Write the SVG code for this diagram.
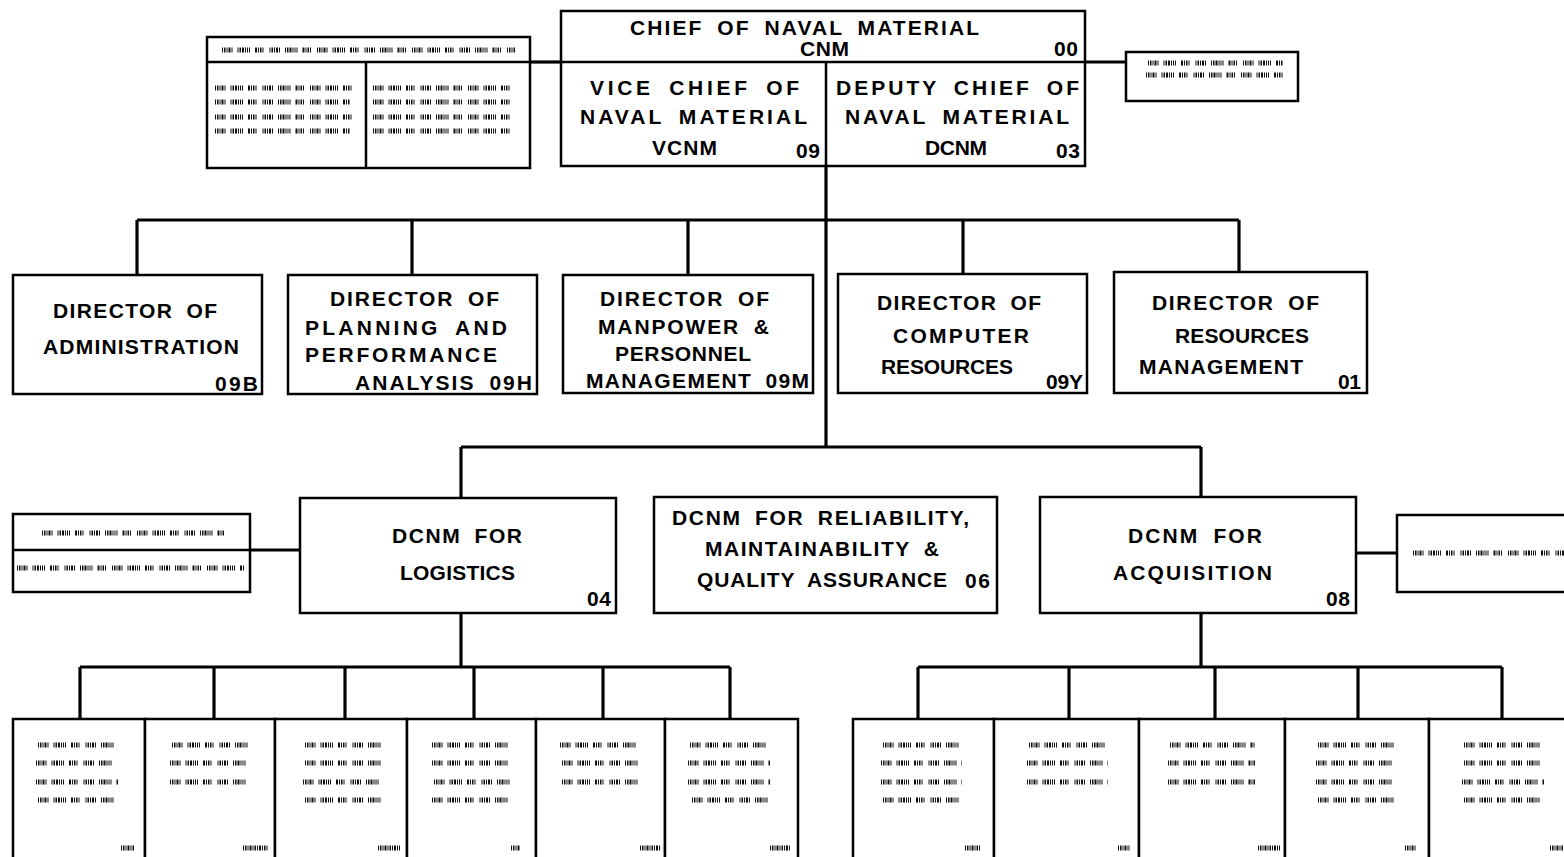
<svg xmlns="http://www.w3.org/2000/svg" width="1564" height="857" viewBox="0 0 1564 857">
<style>
.bg{fill:#fff}
.box{fill:#fff;stroke:#000;stroke-width:2.5}
.div{stroke:#000;stroke-width:2.5;fill:none}
.con{stroke:#000;stroke-width:3.2;fill:none}
.t{font-family:"Liberation Sans",Arial,sans-serif;font-weight:bold;font-size:21px;fill:#000;letter-spacing:1px;word-spacing:6px}
.n{letter-spacing:0px}
.s{stroke:#111;stroke-width:5;fill:none;stroke-dasharray:1 1 1.5 1 1 1 2 1 1 5 1 1 1.5 1 2 1 1 1 1 1 1 5 2 1 1 1 1.5 1 1 6}
.sc{stroke:#111;stroke-width:5;fill:none;stroke-dasharray:1 1 1.5 1 1 1 2 1}
</style>
<rect class="bg" x="0" y="0" width="1564" height="857"/>

<g id="connectors">
<line class="con" x1="530" y1="62" x2="561" y2="62"/>
<line class="con" x1="1085" y1="62" x2="1126" y2="62"/>
<line class="con" x1="826" y1="166" x2="826" y2="447"/>
<line class="con" x1="137" y1="220" x2="1239" y2="220"/>
<line class="con" x1="137" y1="220" x2="137" y2="275"/>
<line class="con" x1="412" y1="220" x2="412" y2="275"/>
<line class="con" x1="688" y1="220" x2="688" y2="275"/>
<line class="con" x1="963" y1="220" x2="963" y2="274"/>
<line class="con" x1="1239" y1="220" x2="1239" y2="272"/>
<line class="con" x1="461" y1="447" x2="1201" y2="447"/>
<line class="con" x1="461" y1="447" x2="461" y2="498"/>
<line class="con" x1="1201" y1="447" x2="1201" y2="497"/>
<line class="con" x1="250" y1="550" x2="300" y2="550"/>
<line class="con" x1="1356" y1="553" x2="1397" y2="553"/>
<line class="con" x1="461" y1="613" x2="461" y2="667"/>
<line class="con" x1="80" y1="667" x2="730" y2="667"/>
<line class="con" x1="80" y1="667" x2="80" y2="719"/>
<line class="con" x1="214" y1="667" x2="214" y2="719"/>
<line class="con" x1="345" y1="667" x2="345" y2="719"/>
<line class="con" x1="474" y1="667" x2="474" y2="719"/>
<line class="con" x1="603" y1="667" x2="603" y2="719"/>
<line class="con" x1="730" y1="667" x2="730" y2="719"/>
<line class="con" x1="1201" y1="613" x2="1201" y2="667"/>
<line class="con" x1="918" y1="667" x2="1502" y2="667"/>
<line class="con" x1="918" y1="667" x2="918" y2="719"/>
<line class="con" x1="1069" y1="667" x2="1069" y2="719"/>
<line class="con" x1="1215" y1="667" x2="1215" y2="719"/>
<line class="con" x1="1358" y1="667" x2="1358" y2="719"/>
<line class="con" x1="1502" y1="667" x2="1502" y2="719"/>
</g>

<g id="cnm">
<rect class="box" x="561" y="11" width="524" height="155"/>
<line class="div" x1="561" y1="62" x2="1085" y2="62"/>
<line class="div" x1="826" y1="62" x2="826" y2="166"/>
<text class="t" x="630" y="35" textLength="350" lengthAdjust="spacing">CHIEF OF NAVAL MATERIAL</text>
<text class="t" x="800" y="56" textLength="50" lengthAdjust="spacing">CNM</text>
<text class="t n" x="1054" y="56" textLength="24" lengthAdjust="spacing">00</text>
</g>
<g id="vcnm">
<text class="t" x="590" y="95" textLength="210" lengthAdjust="spacing">VICE CHIEF OF</text>
<text class="t" x="580" y="124" textLength="228" lengthAdjust="spacing">NAVAL MATERIAL</text>
<text class="t" x="652" y="155" textLength="66" lengthAdjust="spacing">VCNM</text>
<text class="t n" x="796" y="158" textLength="24" lengthAdjust="spacing">09</text>
</g>
<g id="dcnm">
<text class="t" x="836" y="95" textLength="244" lengthAdjust="spacing">DEPUTY CHIEF OF</text>
<text class="t" x="845" y="124" textLength="225" lengthAdjust="spacing">NAVAL MATERIAL</text>
<text class="t" x="925" y="155" textLength="63" lengthAdjust="spacing">DCNM</text>
<text class="t n" x="1056" y="158" textLength="24" lengthAdjust="spacing">03</text>
</g>

<g id="note-topleft">
<rect class="box" x="207" y="37" width="323" height="131"/>
<line class="div" x1="207" y1="62" x2="530" y2="62"/>
<line class="div" x1="366" y1="62" x2="366" y2="168"/>
<line class="s" x1="222" y1="50" x2="515" y2="50"/>
<line class="s" x1="215" y1="88" x2="355" y2="88"/>
<line class="s" x1="215" y1="102" x2="350" y2="102"/>
<line class="s" x1="215" y1="117" x2="355" y2="117"/>
<line class="s" x1="215" y1="131" x2="350" y2="131"/>
<line class="s" x1="373" y1="88" x2="510" y2="88"/>
<line class="s" x1="373" y1="102" x2="510" y2="102"/>
<line class="s" x1="373" y1="117" x2="510" y2="117"/>
<line class="s" x1="373" y1="131" x2="510" y2="131"/>
</g>

<g id="note-topright">
<rect class="box" x="1126" y="52" width="172" height="49"/>
<line class="s" x1="1148" y1="63" x2="1283" y2="63"/>
<line class="s" x1="1146" y1="75" x2="1283" y2="75"/>
</g>

<g id="dir-09b">
<rect class="box" x="13" y="275" width="249" height="119"/>
<text class="t" x="53" y="318" textLength="165" lengthAdjust="spacing">DIRECTOR OF</text>
<text class="t" x="43" y="354" textLength="197" lengthAdjust="spacing">ADMINISTRATION</text>
<text class="t n" x="215" y="391" textLength="43" lengthAdjust="spacing">09B</text>
</g>
<g id="dir-09h">
<rect class="box" x="288" y="275" width="249" height="119"/>
<text class="t" x="330" y="306" textLength="170" lengthAdjust="spacing">DIRECTOR OF</text>
<text class="t" x="305" y="335" textLength="203" lengthAdjust="spacing">PLANNING AND</text>
<text class="t" x="305" y="362" textLength="193" lengthAdjust="spacing">PERFORMANCE</text>
<text class="t" x="355" y="390" textLength="178" lengthAdjust="spacing">ANALYSIS 09H</text>
</g>
<g id="dir-09m">
<rect class="box" x="563" y="275" width="250" height="118"/>
<text class="t" x="600" y="306" textLength="170" lengthAdjust="spacing">DIRECTOR OF</text>
<text class="t" x="598" y="334" textLength="172" lengthAdjust="spacing">MANPOWER &amp;</text>
<text class="t" x="615" y="361" textLength="137" lengthAdjust="spacing">PERSONNEL</text>
<text class="t" x="586" y="388" textLength="224" lengthAdjust="spacing">MANAGEMENT 09M</text>
</g>
<g id="dir-09y">
<rect class="box" x="838" y="274" width="249" height="119"/>
<text class="t" x="877" y="310" textLength="165" lengthAdjust="spacing">DIRECTOR OF</text>
<text class="t" x="893" y="343" textLength="137" lengthAdjust="spacing">COMPUTER</text>
<text class="t" x="881" y="374" textLength="133" lengthAdjust="spacing">RESOURCES</text>
<text class="t n" x="1046" y="389" textLength="37" lengthAdjust="spacing">09Y</text>
</g>
<g id="dir-01">
<rect class="box" x="1114" y="272" width="253" height="121"/>
<text class="t" x="1152" y="310" textLength="168" lengthAdjust="spacing">DIRECTOR OF</text>
<text class="t" x="1175" y="343" textLength="135" lengthAdjust="spacing">RESOURCES</text>
<text class="t" x="1139" y="374" textLength="165" lengthAdjust="spacing">MANAGEMENT</text>
<text class="t n" x="1338" y="389" textLength="23" lengthAdjust="spacing">01</text>
</g>

<g id="note-midleft">
<rect class="box" x="13" y="514" width="237" height="78"/>
<line class="div" x1="13" y1="550" x2="250" y2="550"/>
<line class="s" x1="42" y1="533" x2="224" y2="533"/>
<line class="s" x1="17" y1="568" x2="245" y2="568"/>
</g>
<g id="dcnm-04">
<rect class="box" x="300" y="498" width="316" height="115"/>
<text class="t" x="392" y="543" textLength="131" lengthAdjust="spacing">DCNM FOR</text>
<text class="t" x="400" y="580" textLength="116" lengthAdjust="spacing">LOGISTICS</text>
<text class="t n" x="587" y="606" textLength="24" lengthAdjust="spacing">04</text>
</g>
<g id="dcnm-06">
<rect class="box" x="654" y="497" width="343" height="116"/>
<text class="t" x="672" y="525" textLength="298" lengthAdjust="spacing">DCNM FOR RELIABILITY,</text>
<text class="t" x="705" y="556" textLength="235" lengthAdjust="spacing">MAINTAINABILITY &amp;</text>
<text class="t" x="697" y="587" textLength="251" lengthAdjust="spacing">QUALITY ASSURANCE</text>
<text class="t n" x="965" y="588" textLength="25" lengthAdjust="spacing">06</text>
</g>
<g id="dcnm-08">
<rect class="box" x="1040" y="497" width="316" height="116"/>
<text class="t" x="1128" y="543" textLength="135" lengthAdjust="spacing">DCNM FOR</text>
<text class="t" x="1113" y="580" textLength="160" lengthAdjust="spacing">ACQUISITION</text>
<text class="t n" x="1326" y="606" textLength="24" lengthAdjust="spacing">08</text>
</g>
<g id="note-midright">
<rect class="box" x="1397" y="515" width="180" height="77"/>
<line class="s" x1="1413" y1="553" x2="1564" y2="553"/>
</g>

<g id="log-1">
<rect class="box" x="13" y="719" width="132" height="150"/>
<line class="s" x1="38" y1="745" x2="118" y2="745"/>
<line class="s" x1="36" y1="763" x2="116" y2="763"/>
<line class="s" x1="36" y1="782" x2="118" y2="782"/>
<line class="s" x1="38" y1="800" x2="116" y2="800"/>
<line class="sc" x1="121" y1="848" x2="134" y2="848"/>
</g>
<g id="log-2">
<rect class="box" x="145" y="719" width="130" height="150"/>
<line class="s" x1="172" y1="745" x2="250" y2="745"/>
<line class="s" x1="170" y1="763" x2="248" y2="763"/>
<line class="s" x1="170" y1="782" x2="246" y2="782"/>
<line class="sc" x1="243" y1="848" x2="268" y2="848"/>
</g>
<g id="log-3">
<rect class="box" x="275" y="719" width="132" height="150"/>
<line class="s" x1="305" y1="745" x2="383" y2="745"/>
<line class="s" x1="305" y1="763" x2="383" y2="763"/>
<line class="s" x1="303" y1="782" x2="382" y2="782"/>
<line class="s" x1="305" y1="800" x2="383" y2="800"/>
<line class="sc" x1="378" y1="848" x2="400" y2="848"/>
</g>
<g id="log-4">
<rect class="box" x="407" y="719" width="129" height="150"/>
<line class="s" x1="432" y1="745" x2="510" y2="745"/>
<line class="s" x1="432" y1="763" x2="510" y2="763"/>
<line class="s" x1="434" y1="782" x2="510" y2="782"/>
<line class="s" x1="432" y1="800" x2="510" y2="800"/>
<line class="sc" x1="511" y1="848" x2="520" y2="848"/>
</g>
<g id="log-5">
<rect class="box" x="536" y="719" width="129" height="150"/>
<line class="s" x1="560" y1="745" x2="638" y2="745"/>
<line class="s" x1="562" y1="763" x2="638" y2="763"/>
<line class="s" x1="562" y1="782" x2="640" y2="782"/>
<line class="sc" x1="640" y1="848" x2="660" y2="848"/>
</g>
<g id="log-6">
<rect class="box" x="665" y="719" width="133" height="150"/>
<line class="s" x1="690" y1="745" x2="770" y2="745"/>
<line class="s" x1="688" y1="763" x2="770" y2="763"/>
<line class="s" x1="688" y1="782" x2="770" y2="782"/>
<line class="s" x1="692" y1="800" x2="770" y2="800"/>
<line class="sc" x1="770" y1="848" x2="790" y2="848"/>
</g>

<g id="acq-1">
<rect class="box" x="853" y="719" width="141" height="150"/>
<line class="s" x1="883" y1="745" x2="962" y2="745"/>
<line class="s" x1="881" y1="763" x2="962" y2="763"/>
<line class="s" x1="881" y1="782" x2="962" y2="782"/>
<line class="s" x1="883" y1="800" x2="962" y2="800"/>
<line class="sc" x1="965" y1="848" x2="980" y2="848"/>
</g>
<g id="acq-2">
<rect class="box" x="994" y="719" width="145" height="150"/>
<line class="s" x1="1029" y1="745" x2="1108" y2="745"/>
<line class="s" x1="1027" y1="763" x2="1108" y2="763"/>
<line class="s" x1="1027" y1="782" x2="1108" y2="782"/>
<line class="sc" x1="1118" y1="848" x2="1130" y2="848"/>
</g>
<g id="acq-3">
<rect class="box" x="1139" y="719" width="146" height="150"/>
<line class="s" x1="1170" y1="745" x2="1255" y2="745"/>
<line class="s" x1="1168" y1="763" x2="1255" y2="763"/>
<line class="s" x1="1168" y1="782" x2="1255" y2="782"/>
<line class="sc" x1="1258" y1="848" x2="1280" y2="848"/>
</g>
<g id="acq-4">
<rect class="box" x="1285" y="719" width="144" height="150"/>
<line class="s" x1="1318" y1="745" x2="1396" y2="745"/>
<line class="s" x1="1316" y1="763" x2="1396" y2="763"/>
<line class="s" x1="1316" y1="782" x2="1396" y2="782"/>
<line class="s" x1="1318" y1="800" x2="1396" y2="800"/>
<line class="sc" x1="1405" y1="848" x2="1416" y2="848"/>
</g>
<g id="acq-5">
<rect class="box" x="1429" y="719" width="150" height="150"/>
<line class="s" x1="1464" y1="745" x2="1544" y2="745"/>
<line class="s" x1="1464" y1="763" x2="1544" y2="763"/>
<line class="s" x1="1462" y1="782" x2="1544" y2="782"/>
<line class="s" x1="1464" y1="800" x2="1544" y2="800"/>
<line class="sc" x1="1550" y1="848" x2="1564" y2="848"/>
</g>
</svg>
